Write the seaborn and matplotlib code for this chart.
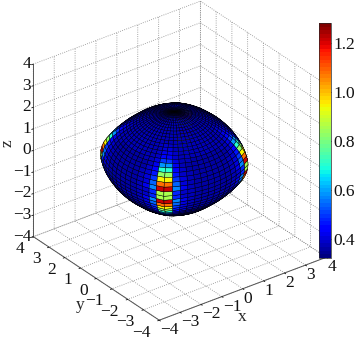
import numpy as np
import matplotlib
matplotlib.use("Agg")
import matplotlib.pyplot as plt
from matplotlib.colors import Normalize
from matplotlib.cm import ScalarMappable
import seaborn as sns

# latitude nodes, equator to pole, every 3.75 degrees
lat_nodes = [0, 3.75, 7.5, 11.25, 15, 18.75, 22.5, 26.25, 30, 33.75, 37.5, 41.25, 45, 48.75, 52.5, 56.25, 60, 63.75, 67.5, 71.25, 75, 78.75, 82.5, 86.25, 90]
r_diag = [3.0, 2.99, 2.96, 2.92, 2.86, 2.79, 2.72, 2.64, 2.57, 2.5, 2.44, 2.39, 2.35, 2.32, 2.3, 2.28, 2.27, 2.26, 2.25, 2.24, 2.22, 2.21, 2.2, 2.2, 2.2]
r_axis = [2.72, 2.71, 2.69, 2.67, 2.63, 2.59, 2.55, 2.5, 2.46, 2.41, 2.37, 2.34, 2.32, 2.3, 2.28, 2.27, 2.26, 2.25, 2.24, 2.23, 2.22, 2.21, 2.2, 2.2, 2.2]
lon_weight = [0, .02, .07, .16, .3, .48, .72, 1]
# cell colour profile: bands from equator to pole; cells from lobe outward
band_value = [.85, 1.22, 1.08, .95, .82, .7, .58, .5, .45, .42, .4, .39, .38, .38, .38, .38, .38, .38, .38, .38, .38, .36, .35, .34]
band_floor = [.36, .36, .36, .36, .36, .36, .36, .365, .37, .37, .375, .38, .38, .38, .38, .38, .38, .38, .38, .38, .38, .36, .35, .34]
cell_weight = [1, .24, .07, .02, 0, 0, 0]
xy_scale, z_scale = 0.95, 1.0
shape_shift = (-.17, .13, .06)
z_ticks = [-4, -3, -2, -1, 0, 1, 2, 3, 4]
cbar_ticks = [.4, .6, .8, 1.0, 1.2]
cbar_labels = ["0.4", "0.6", "0.8", "1.0", "1.2"]
vmin, vmax = .322, 1.28

sns.set_theme(style="white")
plt.rcParams["font.family"] = ["Liberation Serif", "DejaVu Serif"]
plt.rcParams["axes.unicode_minus"] = True
cmap = plt.get_cmap("jet", 64)

W, H = 359, 357
fig = plt.figure(figsize=(W / 100, H / 100), dpi=100)
ax = fig.add_axes([-4.5 / W, 13 / H, 1, 1], projection="3d", computed_zorder=False)
ax.patch.set_alpha(0)
ax.set_proj_type("ortho")
ax.view_init(elev=30, azim=-127)
ax.set_box_aspect((1.05, 1.05, 1), zoom=0.97)
ax.set_xlim(-4, 4); ax.set_ylim(-4, 4); ax.set_zlim(-4, 4)
ax.set_xticks(z_ticks); ax.set_yticks(z_ticks); ax.set_zticks(z_ticks)

# mesh
lat_full = np.radians(np.array([-v for v in lat_nodes[::-1]] + lat_nodes[1:]))
lon_full = np.radians(np.linspace(0, 360, 57))
wn = np.array(lon_weight + lon_weight[-2::-1])       # one quadrant, 15 nodes
wn = np.concatenate([wn[:-1]] * 4 + [wn[:1]])
rd = np.array(r_diag[::-1] + r_diag[1:]); ra = np.array(r_axis[::-1] + r_axis[1:])
R = ra[:, None] + (rd - ra)[:, None] * wn[None, :]
X = shape_shift[0] + xy_scale * R * np.cos(lat_full)[:, None] * np.cos(lon_full)[None, :]
Y = shape_shift[1] + xy_scale * R * np.cos(lat_full)[:, None] * np.sin(lon_full)[None, :]
Z = shape_shift[2] + z_scale * R * np.sin(lat_full)[:, None] * np.ones_like(lon_full)[None, :]
bv = np.array(band_value[::-1] + band_value)
bf = np.array(band_floor[::-1] + band_floor)
cw = np.concatenate([cell_weight[::-1] + cell_weight] * 4)
C = bf[:, None] + (bv - bf)[:, None] * cw[None, :]
norm = Normalize(vmin, vmax)
ax.plot_surface(X, Y, Z, facecolors=cmap(norm(C)), rstride=1, cstride=1, shade=False,
                edgecolor="black", linewidth=0.3, antialiased=True)

for a in (ax.xaxis, ax.yaxis, ax.zaxis):
    a.set_pane_color((1, 1, 1, 0))
    a.pane.set_edgecolor((1, 1, 1, 0))
    a.line.set_color("#555555"); a.line.set_linewidth(0.7)
    a._axinfo["grid"].update(color="#888888", linestyle=":", linewidth=0.6)
    a._axinfo["tick"].update(inward_factor=0.12, outward_factor=0.0, linewidth={True: .6, False: .5})
ax.xaxis.set_tick_params(labelsize=12.5, pad=-7, colors="#111111")
ax.yaxis.set_tick_params(labelsize=12.5, pad=-1, colors="#111111")
ax.zaxis.set_tick_params(labelsize=12.5, pad=-7, colors="#111111")
for t in ax.xaxis.get_ticklabels():
    t.set_ha("left")
for t in ax.yaxis.get_ticklabels():
    t.set_ha("right"); t.set_va("center")
for t in ax.zaxis.get_ticklabels():
    t.set_ha("right"); t.set_va("center")
ax.grid(True)

cax = fig.add_axes([319 / W, 1 - 258 / H, 12 / W, 235 / H])
cb = fig.colorbar(ScalarMappable(norm=norm, cmap=cmap), cax=cax, ticks=cbar_ticks)
cb.ax.set_yticklabels(cbar_labels)
cb.ax.tick_params(labelsize=12.5, length=2, width=.5, pad=2, direction="in", colors="#111111")
cb.outline.set_linewidth(.5)

fig.text(242 / W, 1 - 317 / H, "x", fontsize=12.5, ha="center", va="center")
fig.text(80 / W, 1 - 305 / H, "y", fontsize=12.5, ha="center", va="center")
fig.text(8 / W, 1 - 143 / H, "z", fontsize=12.5, ha="center", va="center", rotation=90)

fig.savefig("out.png", dpi=100)
